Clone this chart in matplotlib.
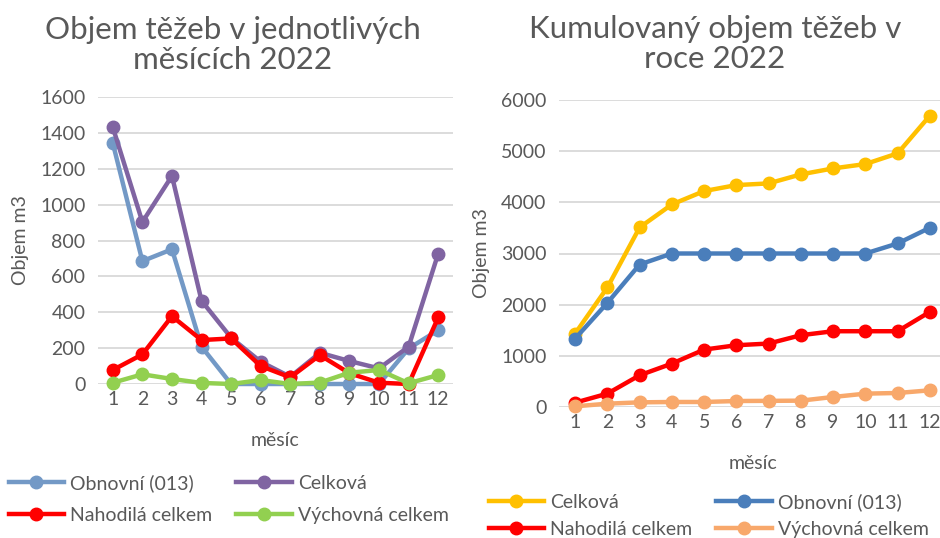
import matplotlib
matplotlib.use("Agg")
import matplotlib.pyplot as plt
from matplotlib.lines import Line2D

plt.rcParams['font.family'] = ['Lato', 'DejaVu Sans']

months = list(range(1, 13))

# Left chart: monthly volumes
obnovni = [1343, 685, 751, 208, 0, 0, 0, 0, 0, 0, 198, 300]
celkova = [1432, 903, 1160, 464, 258, 124, 40, 174, 128, 87, 208, 727]
nahodila = [78, 165, 378, 245, 254, 100, 37, 161, 60, 7, 0, 371]
vychovna = [7, 54, 28, 6, 0, 22, 0, 8, 63, 78, 4, 50]

# Right chart: cumulative volumes
cum_celkova = [1435, 2336, 3509, 3959, 4220, 4337, 4370, 4546, 4663, 4748, 4957, 5694]
cum_obnovni = [1337, 2035, 2785, 3000, 3000, 3000, 3000, 3000, 3000, 3000, 3196, 3503]
cum_nahodila = [85, 261, 620, 848, 1122, 1207, 1240, 1403, 1481, 1481, 1481, 1859]
cum_vychovna = [13, 65, 91, 98, 98, 117, 120, 124, 196, 261, 274, 326]

left_ticks = [0, 200, 400, 600, 800, 1000, 1200, 1400, 1600]
right_ticks = [0, 1000, 2000, 3000, 4000, 5000, 6000]

TXT = '#595959'
GRID = '#d9d9d9'
W, H = 940, 538
FS = 14
TFS = 22.5

fig = plt.figure(figsize=(9.4, 5.38), dpi=100)

def ax_rect(x0, y0, x1, y1):
    return [x0 / W, 1 - y1 / H, (x1 - x0) / W, (y1 - y0) / H]

def style(ax, yticks):
    ax.set_xlim(0.5, 12.5)
    ax.set_ylim(yticks[0], yticks[-1])
    ax.set_yticks(yticks)
    ax.set_xticks(months)
    ax.set_xticklabels([str(m) for m in months])
    for s in ax.spines.values():
        s.set_visible(False)
    ax.grid(axis='y', color=GRID, linewidth=1.3)
    ax.set_axisbelow(True)
    ax.tick_params(axis='both', length=0, labelsize=FS, colors=TXT)
    ax.tick_params(axis='x', pad=5)
    ax.tick_params(axis='y', pad=9)

lw, ms = 3.2, 9

# Left axes
ax1 = fig.add_axes(ax_rect(98, 97, 453, 384))
series_left = [
    (obnovni, '#7399C6', 'Obnovní (013)'),
    (celkova, '#8064A2', 'Celková'),
    (nahodila, '#FF0000', 'Nahodilá celkem'),
    (vychovna, '#92D050', 'Výchovná celkem'),
]
hl = {}
for vals, c, lab in series_left:
    h, = ax1.plot(months, vals, color=c, lw=lw, marker='o', ms=ms, label=lab, clip_on=False)
    hl[lab] = h
style(ax1, left_ticks)
ax1.set_ylabel('Objem m3', fontsize=FS, color=TXT, labelpad=8)
ax1.set_xlabel('měsíc', fontsize=FS, color=TXT, labelpad=17)
ax1.set_title('Objem těžeb v jednotlivých\nměsících 2022', fontsize=TFS, color=TXT, pad=20,
              linespacing=1.1, x=(233 - 98) / (453 - 98))
order_l = ['Obnovní (013)', 'Nahodilá celkem', 'Celková', 'Výchovná celkem']
leg_kw = dict(ncol=2, loc='upper left', frameon=False, fontsize=FS, labelcolor=TXT,
              handlelength=2.85, handletextpad=0.3, columnspacing=1.25, borderaxespad=0)
fig.legend([hl[k] for k in order_l], order_l,
           bbox_to_anchor=(1 / W, 1 - 466 / H), labelspacing=0.8, **leg_kw)

# Right axes
ax2 = fig.add_axes(ax_rect(559, 100, 946, 407))
series_right = [
    (cum_celkova, '#FFC000', 'Celková'),
    (cum_obnovni, '#4A7EBB', 'Obnovní (013)'),
    (cum_nahodila, '#FF0000', 'Nahodilá celkem'),
    (cum_vychovna, '#F8A86B', 'Výchovná celkem'),
]
hr = {}
for vals, c, lab in series_right:
    h, = ax2.plot(months, vals, color=c, lw=lw, marker='o', ms=ms, label=lab, clip_on=False)
    hr[lab] = h
style(ax2, right_ticks)
ax2.set_ylabel('Objem m3', fontsize=FS, color=TXT, labelpad=8)
ax2.set_xlabel('měsíc', fontsize=FS, color=TXT, labelpad=17)
ax2.set_title('Kumulovaný objem těžeb v\nroce 2022', fontsize=TFS, color=TXT, pad=23, linespacing=1.1,
              x=(715 - 559) / (946 - 559))
order_r = ['Celková', 'Nahodilá celkem', 'Obnovní (013)', 'Výchovná celkem']
fig.legend([hr[k] for k in order_r], order_r,
           bbox_to_anchor=(481 / W, 1 - 485 / H), labelspacing=0.52, **leg_kw)

fig.savefig('out.png', dpi=100)
